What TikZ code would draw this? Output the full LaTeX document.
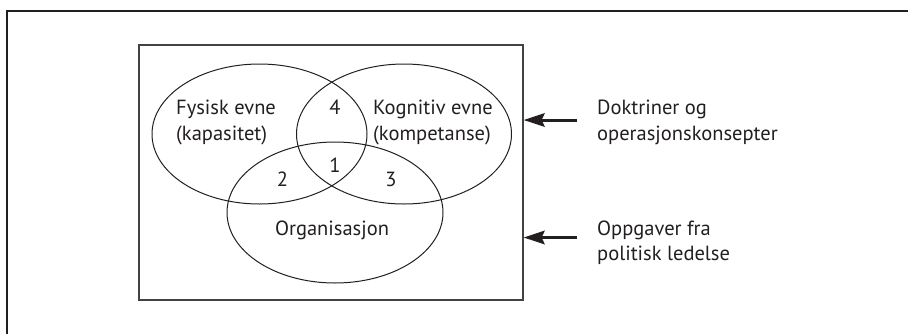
\documentclass[tikz,border=0pt]{standalone}
\usepackage{fontspec}
\setmainfont{PT Sans}
\usetikzlibrary{shapes.geometric,arrows.meta}
\definecolor{ink}{HTML}{231F20}
\begin{document}
\begin{tikzpicture}[x=1pt,y=-1pt,
  venn/.style={draw=ink, line width=1pt, ellipse, inner sep=0pt, minimum width=215pt, minimum height=140pt},
  lbl/.style={inner sep=0pt, text=ink, font=\fontsize{20.5}{24}\selectfont},
  arr/.style={draw=ink, line width=3pt, -{Stealth[length=21pt, width=13.5pt, inset=3pt]}}]
\useasboundingbox (0,0) rectangle (908,333);
\fill[white] (0,0) rectangle (908,333);
% outer frame
\draw[ink, line width=2.2pt] (6.8,334) -- (6.8,10.8) -- (909,10.8);
% inner box
\node[draw=ink!85, line width=1.2pt, minimum width=384pt, minimum height=255pt, inner sep=0pt] (box) at (331,172.5) {};
% ellipses
\node[venn] (fys) at (259.5,134) {};
\node[venn] (kog) at (404,134) {};
\node[venn, minimum width=216pt, minimum height=141pt] (org) at (335,212.5) {};
% labels
\node[lbl, anchor=base west] (f1) at (176,114.3) {Fysisk evne};
\node[lbl, anchor=base west] (f2) at (176,140.3) {(kapasitet)};
\node[lbl, anchor=base west] (k1) at (373,114.3) {Kognitiv evne};
\node[lbl, anchor=base west] (k2) at (373,140.3) {(kompetanse)};
\node[lbl, anchor=base] (n4) at (335,114.3) {4};
\node[lbl, anchor=base] (n1) at (335,172.5) {1};
\node[lbl, anchor=base] (n2) at (282.5,186) {2};
\node[lbl, anchor=base] (n3) at (391,186) {3};
\node[lbl, anchor=base] (o1) at (332,235) {Organisasjon};
\node[lbl, anchor=base west] (d1) at (597,114.3) {Doktriner og};
\node[lbl, anchor=base west] (d2) at (597,140.3) {operasjonskonsepter};
\node[lbl, anchor=base west] (p1) at (597,235) {Oppgaver fra};
\node[lbl, anchor=base west] (p2) at (597,260.5) {politisk ledelse};
% arrows
\coordinate (a1) at (576.5,120);
\coordinate (a2) at (576.5,237.5);
\draw[arr] (a1) -- (a1 -| box.east);
\draw[arr] (a2) -- (a2 -| box.east);
\end{tikzpicture}
\end{document}
